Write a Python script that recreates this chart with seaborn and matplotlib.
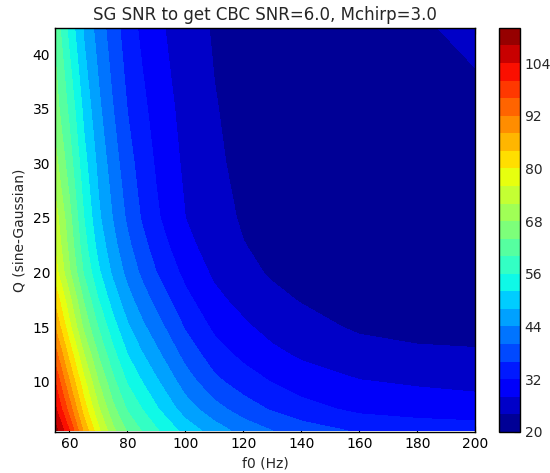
import numpy as np
import matplotlib
matplotlib.use("Agg")
import matplotlib.pyplot as plt
import seaborn as sns

# grid
f0_hz = [55, 60, 65, 70, 75, 80, 85, 90, 100, 110, 120, 130, 140, 160, 180, 200]
q_values = [5.5, 7.5, 10, 12.5, 15, 17.5, 20, 22.5, 25, 30, 35, 42.5]

# required sine-Gaussian SNR, one row per Q value (low Q first)
snr_q5 = [110, 100, 87, 77, 69, 63.5, 59.8, 56.5, 50.5, 46, 42.5, 40, 38, 35.5, 34.5, 34]
snr_q7 = [105, 94, 82, 72.5, 65, 59.5, 56, 52.5, 46, 41.5, 38, 35.5, 33.5, 31, 30.1, 29.6]
snr_q10 = [100, 88, 77, 68, 61, 55.6, 52, 48.6, 42, 37, 34, 31.8, 30, 28.2, 27.5, 27]
snr_q12 = [94, 82.5, 72, 63.7, 57.2, 52, 48.3, 45, 38.6, 33.8, 31, 28.9, 27.4, 25.4, 24.6, 24.4]
snr_q15 = [88, 77, 67, 59.7, 53.6, 48.6, 44.9, 41.7, 35.6, 31.2, 28.7, 26.6, 25.2, 23.5, 23, 22.8]
snr_q17 = [83, 73, 63.5, 56, 50.2, 45.5, 41.9, 38.7, 33.1, 29, 26.7, 24.8, 23.8, 22.9, 22.3, 22.2]
snr_q20 = [78, 68.5, 59.5, 52.7, 47.2, 42.8, 39.2, 36, 30.9, 27.3, 24.9, 23.6, 23, 22.2, 21.8, 21.8]
snr_q22 = [75.8, 66.6, 57.5, 50.5, 45.3, 40.9, 37.3, 34.1, 29.2, 26, 24.1, 23.1, 22.5, 21.8, 21.6, 21.7]
snr_q25 = [74, 65.2, 56, 48.8, 43.8, 39.3, 35.6, 32.6, 28, 25.3, 23.6, 22.6, 22, 21.5, 21.5, 21.8]
snr_q30 = [69.5, 61.8, 53.4, 46.9, 41.9, 37.5, 34.3, 31.5, 27.2, 24.6, 23.1, 22.2, 21.8, 21.5, 21.6, 22.2]
snr_q35 = [66, 59, 50.9, 44.9, 40.1, 35.9, 33, 30.4, 26.6, 24.2, 22.8, 22, 21.6, 21.5, 22, 23]
snr_q42 = [63, 54.5, 47.4, 42.2, 37.8, 34, 31.1, 28.9, 25.8, 23.6, 22.4, 21.8, 21.5, 22, 23.5, 25]

levels = list(range(20, 113, 4))
cbar_ticks = [20, 32, 44, 56, 68, 80, 92, 104]

sns.set_style("ticks", {
    "xtick.direction": "in",
    "ytick.direction": "in",
    "xtick.top": True,
    "ytick.right": True,
    "axes.edgecolor": "black",
})
plt.rcParams["font.family"] = ["DejaVu Sans"]

snr = np.array([snr_q5, snr_q7, snr_q10, snr_q12, snr_q15, snr_q17,
                snr_q20, snr_q22, snr_q25, snr_q30, snr_q35, snr_q42])

fig = plt.figure(figsize=(5.5, 4.73), dpi=100)
ax = fig.add_axes([0.1, 0.087, 0.764, 0.854])
cax = fig.add_axes([0.907, 0.087, 0.038, 0.854])

cs = ax.contourf(f0_hz, q_values, snr, levels=levels, cmap="jet")
ax.set_xlim(55, 200)
ax.set_ylim(5.4, 42.4)
ax.set_xticks([60, 80, 100, 120, 140, 160, 180, 200])
ax.set_yticks([10, 15, 20, 25, 30, 35, 40])
ax.tick_params(labelsize=10, length=4, width=0.8, colors="black")
ax.set_xlabel("f0 (Hz)", fontsize=10)
ax.set_ylabel("Q (sine-Gaussian)", fontsize=10)
ax.set_title("SG SNR to get CBC SNR=6.0, Mchirp=3.0", fontsize=12)
for s in ax.spines.values():
    s.set_linewidth(1)

cb = fig.colorbar(cs, cax=cax, ticks=cbar_ticks)
cb.ax.tick_params(labelsize=10, direction="in", length=4, width=0.8)
cb.outline.set_linewidth(1)

fig.savefig("out.png", dpi=100)
